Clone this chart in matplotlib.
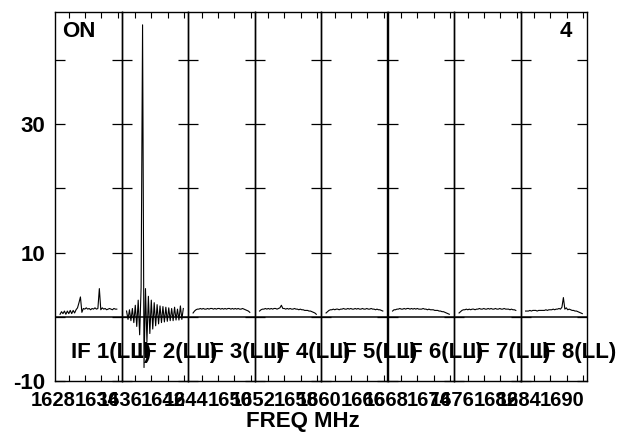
import numpy as np
import matplotlib
matplotlib.use("Agg")
import matplotlib.pyplot as plt
from matplotlib.transforms import ScaledTranslation, blended_transform_factory

plt.rcParams['font.family'] = ['Liberation Sans', 'DejaVu Sans']
plt.rcParams['font.weight'] = 'bold'

# ---- data ----
if_names = ["IF 1(LL)", "IF 2(LL)", "IF 3(LL)", "IF 4(LL)",
            "IF 5(LL)", "IF 6(LL)", "IF 7(LL)", "IF 8(LL)"]
if_start_mhz = [1628, 1636, 1644, 1652, 1660, 1668, 1676, 1684]
freq_labels = [["1628", "1634"], ["1636", "1642"], ["1644", "1650"], ["1652", "1658"],
               ["1660", "1666"], ["1668", "1674"], ["1676", "1682"], ["1684", "1690"]]

if1 = [0.4, 0.8, 0.5, 0.9, 0.4, 0.9, 0.5, 1.0, 0.5, 1.0, 0.6, 1.1, 1.4, 2.2, 3.1, 0.7,
       1.3, 1.2, 1.4, 1.2, 1.3, 1.1, 1.3, 1.2, 1.4, 1.2, 1.3, 4.4, 1.1, 1.4, 1.2, 1.3,
       1.1, 1.2, 1.3, 1.2, 1.1, 1.3, 1.2, 1.2]
if2 = [0.9, -0.4, 1.1, -0.6, 1.3, -0.9, 1.8, -1.5, 2.6, -2.8, 4.6, 45.5, -7.9, 4.4, -3.9, 3.2,
       -2.6, 2.6, -1.9, 2.2, -1.4, 1.9, -1.1, 1.7, -0.9, 1.6, -0.8, 1.5, -0.7, 1.4, -0.6, 1.3,
       -0.6, 1.5, -0.5, 1.2, -0.5, 1.7, -0.4, 1.3]
if3 = [0.6, 0.9, 1.1, 1.2, 1.2, 1.3, 1.2, 1.3, 1.2, 1.2, 1.3, 1.2, 1.3, 1.3, 1.2, 1.3,
       1.2, 1.3, 1.3, 1.2, 1.3, 1.2, 1.3, 1.2, 1.3, 1.3, 1.2, 1.3, 1.2, 1.3, 1.2, 1.3,
       1.2, 1.2, 1.3, 1.2, 1.1, 1.0, 0.9, 0.7]
if4 = [0.9, 1.1, 1.2, 1.2, 1.3, 1.2, 1.3, 1.2, 1.3, 1.2, 1.3, 1.3, 1.2, 1.3, 1.4, 1.8,
       1.3, 1.3, 1.2, 1.3, 1.2, 1.3, 1.2, 1.2, 1.3, 1.2, 1.2, 1.1, 1.2, 1.1, 1.1, 1.0,
       1.0, 1.0, 0.9, 0.9, 0.8, 0.7, 0.6, 0.4]
if5 = [0.6, 0.8, 1.0, 1.1, 1.1, 1.2, 1.1, 1.2, 1.2, 1.1, 1.2, 1.2, 1.3, 1.2, 1.2, 1.3,
       1.2, 1.3, 1.2, 1.2, 1.3, 1.2, 1.3, 1.2, 1.2, 1.3, 1.2, 1.2, 1.3, 1.2, 1.2, 1.3,
       1.2, 1.2, 1.1, 1.2, 1.1, 1.1, 1.0, 0.9]
if6 = [0.9, 1.1, 1.1, 1.2, 1.2, 1.3, 1.2, 1.2, 1.3, 1.2, 1.3, 1.3, 1.2, 1.3, 1.2, 1.3,
       1.2, 1.3, 1.2, 1.2, 1.2, 1.3, 1.2, 1.2, 1.1, 1.2, 1.1, 1.1, 1.1, 1.0, 1.0, 1.0,
       0.9, 0.9, 0.8, 0.8, 0.7, 0.6, 0.5, 0.4]
if7 = [0.6, 0.8, 1.0, 1.1, 1.1, 1.2, 1.1, 1.2, 1.1, 1.2, 1.2, 1.1, 1.2, 1.2, 1.3, 1.2,
       1.2, 1.3, 1.2, 1.2, 1.3, 1.2, 1.3, 1.2, 1.2, 1.3, 1.2, 1.2, 1.3, 1.2, 1.2, 1.3,
       1.2, 1.2, 1.2, 1.1, 1.2, 1.1, 1.1, 1.0]
if8 = [0.9, 0.9, 0.9, 1.0, 0.9, 1.0, 1.0, 1.0, 0.9, 1.0, 1.0, 1.0, 1.0, 1.0, 1.1, 1.0,
       1.1, 1.1, 1.1, 1.2, 1.1, 1.2, 1.2, 1.3, 1.2, 1.5, 3.0, 1.2, 1.4, 1.1, 1.2, 1.1,
       1.0, 1.0, 0.9, 0.9, 0.8, 0.7, 0.6, 0.5]
spectra = [if1, if2, if3, if4, if5, if6, if7, if8]

y_ticks = [-10, 0, 10, 20, 30, 40]
y_ticklabels = ["-10", "", "10", "", "30", ""]

# ---- figure ----
W, H = 629, 434
fig = plt.figure(figsize=(W / 100, H / 100), dpi=100)
left_px, right_px, top_px, bot_px = 55, 587, 12, 381
npan = len(spectra)
pw = (right_px - left_px) / npan
span = 9.2  # MHz shown per panel

axes = []
for i, (vals, s0) in enumerate(zip(spectra, if_start_mhz)):
    x0 = left_px + i * pw
    ax = fig.add_axes([x0 / W, 1 - bot_px / H, pw / W, (bot_px - top_px) / H])
    ax.patch.set_visible(False)
    freqs = s0 + np.linspace(0.7, 8.55, len(vals))
    ax.plot(freqs, vals, color='black', lw=0.8)
    ax.axhline(0, color='#3a3a3a', lw=1.4, zorder=1)
    ax.set_xlim(s0, s0 + span)
    ax.set_ylim(-10, 47.5)

    # x ticks
    ax.set_xticks([s0, s0 + 6])
    ax.set_xticklabels(freq_labels[i], fontsize=14.5, fontweight='bold')
    ax.set_xticks([s0 + 1.87, s0 + 4.15, s0 + 6.43, s0 + 8.71], minor=True)
    ax.tick_params(axis='x', which='major', length=0, pad=7)
    ax.tick_params(axis='x', which='minor', direction='in', length=4, width=0.8,
                   top=True, bottom=True)
    off = ScaledTranslation(-1.5 / 100, 0, fig.dpi_scale_trans)
    for lab in ax.get_xticklabels():
        lab.set_transform(lab.get_transform() + off)

    # y ticks
    ax.set_yticks(y_ticks)
    if i == 0:
        ax.set_yticklabels(y_ticklabels, fontsize=16, fontweight='bold')
    else:
        ax.set_yticklabels([])
    ax.tick_params(axis='y', which='major', direction='in', length=7, width=0.9,
                   left=True, right=True, pad=7)
    for sp in ax.spines.values():
        sp.set_linewidth(1.0)
        sp.set_color('black')

    ax.text(0.24, -5.6, if_names[i],
            transform=blended_transform_factory(ax.transAxes, ax.transData),
            ha='left', va='center', fontsize=16, fontweight='bold', clip_on=False)
    axes.append(ax)

axes[0].text(0.10, 0.975, "ON", transform=axes[0].transAxes, ha='left', va='top',
             fontsize=16, fontweight='bold')
axes[-1].text(0.77, 0.975, "4", transform=axes[-1].transAxes, ha='right', va='top',
              fontsize=16, fontweight='bold')

fig.text(303 / W, 1 - 421 / H, "FREQ MHz", ha='center', va='center',
         fontsize=16, fontweight='bold')

fig.savefig("out.png", dpi=100)
